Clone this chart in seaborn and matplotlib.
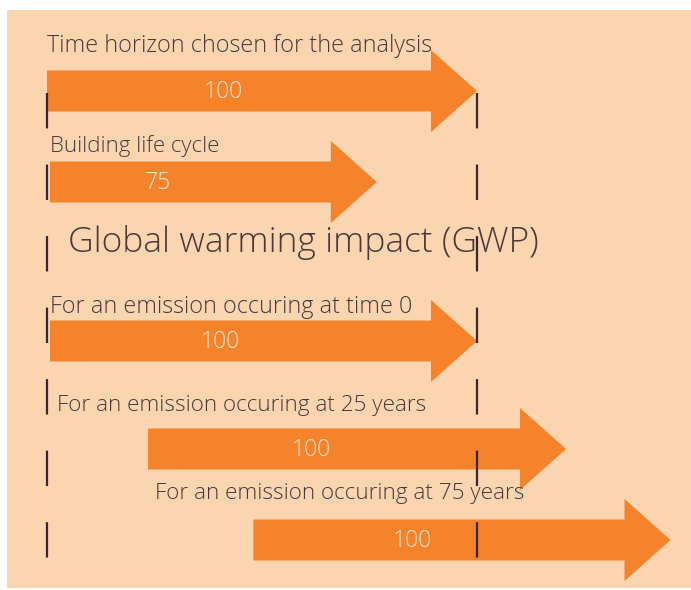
import matplotlib
matplotlib.use("Agg")
import matplotlib.pyplot as plt
from matplotlib.patches import Rectangle
import seaborn as sns

# ---- data (years, as drawn in the diagram) ----
arrow_names = ["Time horizon chosen for the analysis",
               "Building life cycle",
               "For an emission occuring at time 0",
               "For an emission occuring at 25 years",
               "For an emission occuring at 75 years"]
arrow_start = [0, 0.7, 0.7, 23.5, 48]
arrow_end = [100, 76.7, 100, 120.7, 145]
arrow_value = ["100", "75", "100", "100", "100"]
horizon = [0, 100]
title = "Global warming impact (GWP)"

# ---- layout (pixels of the 691x590 canvas) ----
W, H = 691, 590
PX_PER_YEAR = 4.3
X0 = 47                       # pixel of year 0
row_y = [91, 182, 341, 449, 540]
name_xy = [(47, 46), (50, 146), (50, 307), (57, 405), (155, 494)]
name_size = [16.8, 16, 16.8, 16.2, 16.2]
value_frac = [0.41, 0.33, 0.40, 0.39, 0.38]

PEACH = "#fbd4b0"
ORANGE = "#f5832b"
INK = "#4a3b3b"
DASH = "#3a2532"
CREAM = "#fde5cf"

sns.set_theme(style="white")
plt.rcParams["font.family"] = ["Open Sans", "DejaVu Sans"]
plt.rcParams["lines.scale_dashes"] = False

fig = plt.figure(figsize=(W / 100, H / 100), dpi=100, facecolor="white")
ax = fig.add_axes([0, 0, 1, 1])
ax.set_xlim(-X0 / PX_PER_YEAR, (W - X0) / PX_PER_YEAR)
ax.set_ylim(H, 0)
ax.axis("off")


def px(x):
    return (x - X0) / PX_PER_YEAR


# peach panel
ax.add_patch(Rectangle((px(7), 10), px(W) - px(7), 578, facecolor=PEACH,
                       edgecolor="none", zorder=0))

# arrows
head_len = 46 / PX_PER_YEAR
for i in range(len(arrow_start)):
    length = arrow_end[i] - arrow_start[i]
    ax.arrow(arrow_start[i], row_y[i], length, 0, width=41, head_width=82,
             head_length=head_len, length_includes_head=True,
             color=ORANGE, linewidth=0, zorder=2)
    ax.text(arrow_start[i] + value_frac[i] * length, row_y[i] + 1, arrow_value[i],
            color=CREAM, fontsize=16.5, fontweight="light",
            ha="center", va="center", zorder=4)
    nx, ny = name_xy[i]
    ax.text(px(nx), ny, arrow_names[i], color=INK, fontweight="light",
            fontsize=name_size[i], ha="left", va="center", zorder=4)

# dashed horizon markers
for h in horizon:
    ax.plot([h, h], [93, 558], color=DASH, linewidth=1.6,
            linestyle=(0, (25.5, 26.0)), zorder=3)

ax.text(px(68), 242, title, color=INK, fontsize=25.5, fontweight="light",
        ha="left", va="center", zorder=4)

fig.savefig("out.png", dpi=100, facecolor="white")
